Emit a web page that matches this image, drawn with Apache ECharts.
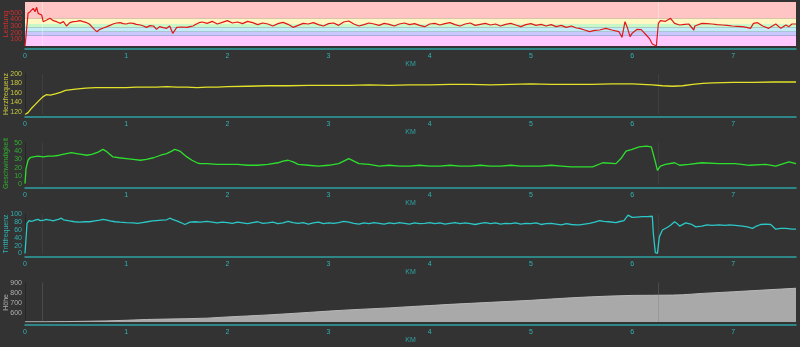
<!DOCTYPE html>
<html><head><meta charset="utf-8">
<script src="https://cdn.jsdelivr.net/npm/echarts@6/dist/echarts.min.js"></script>
<style>html,body{margin:0;padding:0;background:#333333}#c{width:800px;height:347px}</style>
</head><body><div id="c"></div>
<script>
// ---- Data ----
const powerKm = [0,0.01,0.03,0.05,0.066,0.082,0.099,0.115,0.13,0.148,0.165,0.18,0.214,0.247,0.28,0.313,0.345,0.38,0.41,0.444,0.477,0.51,0.543,0.575,0.61,0.635,0.66,0.685,0.71,0.74,0.775,0.81,0.84,0.87,0.905,0.94,0.97,1.0,1.035,1.07,1.1,1.14,1.17,1.2,1.235,1.27,1.3,1.33,1.365,1.4,1.43,1.46,1.5,1.55,1.6,1.63,1.66,1.69,1.72,
1.75,1.8,1.85,1.9,1.95,2.0,2.05,2.1,2.15,2.2,2.25,2.3,2.35,2.4,2.45,2.5,2.55,2.6,2.65,2.7,2.75,2.8,2.85,2.9,2.95,3.0,3.05,3.1,3.15,3.2,3.25,3.3,3.35,3.4,3.45,3.5,3.55,3.6,3.65,3.7,3.75,3.8,3.85,3.9,3.95,4.0,4.05,4.1,4.15,4.2,4.25,4.3,4.35,4.4,4.45,4.5,4.55,4.6,4.65,4.7,4.75,4.8,4.85,4.9,4.95,5.0,5.05,5.1,5.15,5.2,5.25,5.3,5.35,5.4,5.45,
5.48,5.53,5.58,5.63,5.68,5.74,5.8,5.87,5.9,5.93,5.95,5.98,6.0,6.05,6.09,6.14,6.17,6.2,6.24,6.25,6.26,6.28,6.33,6.38,6.42,6.47,6.52,6.56,6.61,6.62,6.69,6.74,6.79,6.84,6.89,6.94,6.99,7.04,7.09,7.13,7.17,7.2,7.24,7.29,7.35,7.42,7.47,7.52,7.55,7.58,7.62];
const powerW = [0,150,490,515,500,565,515,580,490,515,465,365,390,415,380,365,340,365,300,350,365,370,380,365,350,330,290,250,215,250,270,290,310,330,345,350,335,330,345,340,325,315,300,280,305,300,250,290,275,265,300,190,280,285,280,290,300,325,350,
360,340,370,330,355,380,345,360,335,370,350,320,345,330,300,335,355,325,280,310,340,330,350,320,300,335,345,310,360,375,330,300,320,345,330,310,340,325,300,330,345,320,335,310,290,330,340,315,335,350,320,300,330,345,310,325,340,315,330,300,325,340,315,290,320,335,310,325,300,320,290,310,280,300,270,
265,240,215,235,240,265,240,215,130,365,290,140,190,250,245,165,115,30,0,0,340,380,370,415,340,315,325,330,240,300,340,335,330,320,315,310,300,295,290,280,265,340,350,300,265,330,265,315,290,330,330];

const hrKm = [0,0.03,0.06,0.1,0.14,0.18,0.21,0.25,0.3,0.35,0.4,0.5,0.6,0.7,0.8,0.9,1.0,1.1,1.2,1.3,1.4,1.5,1.6,1.7,1.8,1.9,2.0,2.2,2.4,2.6,2.8,3.0,3.2,3.4,3.6,3.8,4.0,4.2,4.4,4.6,4.8,5.0,5.2,5.4,5.6,5.8,6.0,6.1,6.2,6.3,6.4,6.5,6.6,6.7,6.8,7.0,7.2,7.4,7.62];
const hrBpm = [114,118,126,135,144,152,156,155,158,161,165,168,170,171,171,171,171,172,172,172,173,172,172,171,172,172,173,174,175,175,176,176,176,177,176,177,177,178,178,177,178,179,178,178,178,179,179,178,177,175,174,175,178,180,181,182,182,183,183];

const speedKm = [0,0.01,0.03,0.05,0.08,0.13,0.18,0.23,0.28,0.34,0.41,0.46,0.51,0.56,0.61,0.66,0.71,0.74,0.77,0.8,0.84,0.87,0.93,1.0,1.07,1.14,1.2,1.27,1.34,1.4,1.45,1.48,1.53,1.57,1.6,1.65,1.7,1.73,
1.8,1.9,2.0,2.1,2.2,2.3,2.4,2.5,2.55,2.6,2.65,2.7,2.8,2.9,3.0,3.1,3.15,3.2,3.25,3.3,3.4,3.5,3.6,3.7,3.8,3.9,4.0,4.1,4.2,4.3,4.4,4.5,4.6,4.7,4.8,4.9,5.0,5.1,5.2,5.3,5.4,
5.48,5.61,5.71,5.84,5.89,5.94,6.0,6.07,6.14,6.19,6.2,6.23,6.25,6.28,6.33,6.42,6.47,6.56,6.69,6.86,7.02,7.16,7.32,7.42,7.55,7.62];
const speedKmh = [1,19,29,32,33,34,33,34,34,35,37,38,37,36,35,36,38,40,42,40,36,33,32,31,30,29,30,32,35,37,40,42,40,36,33,29,26,25,
25,24,24,24,23,23,24,26,28,29,27,24,23,22,23,25,28,31,28,25,24,22,23,22,22,23,22,22,23,22,22,23,22,22,23,22,22,22,23,22,21,
21,21,26,25,31,40,42,45,46,45,44,27,17,22,24,26,23,24,26,25,25,23,24,22,27,25];

const cadKm = [0,0.02,0.04,0.06,0.08,0.1,0.13,0.15,0.165,0.19,0.21,0.23,0.25,0.28,0.3,0.33,0.36,0.38,0.395,0.44,0.49,0.54,0.59,0.64,0.69,0.74,0.77,0.8,0.84,0.89,0.94,1.0,1.07,1.11,1.16,1.21,1.26,1.3,1.35,1.4,1.43,1.47,1.5,1.54,1.58,1.63,1.68,1.73,
1.8,1.85,1.9,1.95,2.0,2.05,2.1,2.15,2.2,2.25,2.3,2.35,2.4,2.45,2.5,2.55,2.6,2.65,2.7,2.75,2.8,2.85,2.9,2.95,3.0,3.05,3.1,3.15,3.2,3.25,3.3,3.35,3.4,3.45,3.5,3.55,3.6,3.65,3.7,3.75,3.8,3.85,3.9,3.95,4.0,4.05,4.1,4.15,4.2,4.25,4.3,4.35,4.4,4.45,4.5,4.55,4.6,4.65,4.7,4.75,4.8,4.85,4.9,4.95,5.0,5.05,5.1,5.15,5.2,5.25,5.3,5.35,5.4,5.45,
5.48,5.53,5.58,5.63,5.68,5.72,5.77,5.84,5.87,5.92,5.96,6.0,6.05,6.1,6.15,6.2,6.21,6.23,6.25,6.27,6.3,6.35,6.38,6.42,6.45,6.47,6.53,6.59,6.63,6.69,6.74,6.79,6.86,6.92,6.96,7.02,7.09,7.14,7.19,7.23,7.27,7.32,7.37,7.42,7.47,7.52,7.56,7.58,7.62];
const cadRpm = [0,77,84,82,83,85,87,84,83,85,87,86,85,83,85,87,90,86,83,83,81,80,81,81,83,85,87,86,83,81,80,79,78,77,79,81,83,84,85,86,90,86,83,79,74,80,81,80,
82,80,78,80,79,77,80,78,76,79,81,77,78,80,76,78,82,79,77,79,75,78,80,76,78,77,79,82,80,77,75,78,76,79,77,75,78,76,79,77,75,78,76,77,79,76,78,75,77,79,76,78,76,74,77,79,76,78,75,77,76,78,75,77,76,78,74,76,77,75,73,76,74,73,
73,75,77,80,84,82,81,79,81,84,98,92,93,94,94,95,51,2,0,43,60,67,72,81,75,70,78,74,68,70,73,72,73,72,73,72,70,68,64,70,74,75,74,62,64,64,63,62,62];

const altKm = [0,0.2,0.4,0.6,0.8,1.0,1.2,1.4,1.6,1.8,2.0,2.2,2.4,2.6,2.8,3.0,3.2,3.4,3.6,3.8,4.0,4.2,4.4,4.6,4.8,5.0,5.2,5.4,5.6,5.8,6.0,6.2,6.4,6.5,6.7,7.0,7.3,7.62];
const altM = [512,512,514,517,521,527,535,539,543,548,560,570,580,592,605,618,630,640,650,662,673,685,695,705,715,725,738,750,760,768,774,775,777,780,794,810,827,845];

const powerZones = [0,155,215,280,330,415,660];
const zoneColors = ['#ffc8ff','#c8c8ff','#c4ecf8','#c8f8c8','#fff8c4','#ffc4c4'];
const lapKm = [0.175, 6.26];

const xTicks = [0,1,2,3,4,5,6,7];
const powerTicks = [0,100,200,300,400,500,600];
const hrTicks = [120,140,160,180,200];
const speedTicks = [0,10,20,30,40,50];
const cadTicks = [0,20,40,60,80,100];
const altTicks = [600,700,800,900];

// ---- Build ----
const zip = (a,b) => a.map((v,i)=>[v,b[i]]);
const FONT = 'Liberation Sans, Arial, sans-serif';
const XMAX = 7.62;
const grids = [
  {top:2, bottom:46},
  {top:74, bottom:114},
  {top:142.7, bottom:184.5},
  {top:214.3, bottom:253.5},
  {top:282.7, bottom:322}
];
const panels = [
  {name:'Leistung', color:'#d03030', min:0, max:660, ticks:powerTicks},
  {name:'Herzfrequenz', color:'#c8c840', min:115, max:200, ticks:hrTicks},
  {name:'Geschwindigkeit', color:'#30b030', min:0, max:50, ticks:speedTicks},
  {name:'Trittfrequenz', color:'#30b0b0', min:0, max:100, ticks:cadTicks},
  {name:'Höhe', color:'#b0b0b0', min:510, max:900, ticks:altTicks}
];
const teal = '#2fa3a3';
const option = {
  backgroundColor:'#333333',
  animation:false,
  textStyle:{fontFamily:FONT},
  grid: grids.map(g=>({left:25, right:4, top:g.top, height:g.bottom-g.top, containLabel:false, outerBoundsMode:'none'})),
  xAxis: grids.map((g,i)=>({
    type:'value', gridIndex:i, min:0, max:XMAX, offset:3,
    name:'KM', nameLocation:'middle', nameGap:12, nameMoveOverlap:false,
    nameTextStyle:{color:teal, fontSize:7, fontFamily:FONT},
    axisLine:{show:true, onZero:false, lineStyle:{color:teal, width:1.5}},
    axisTick:{show:false},
    splitLine:{show:false},
    axisLabel:{color:'#30b4b4', fontSize:7, margin:4, customValues:xTicks, formatter:v=>String(v)}
  })),
  yAxis: panels.map((p,i)=>({
    type:'value', gridIndex:i, min:p.min, max:p.max,
    name:p.name, nameLocation:'middle', nameGap:15, nameMoveOverlap:false,
    nameTextStyle:{color:p.color, fontSize:7, fontFamily:FONT},
    axisLine:{show:true, lineStyle:{color:'#262626', width:1}},
    axisTick:{show:false},
    splitLine:{show:false},
    axisLabel:{color:p.color, fontSize:7, margin:3, customValues:p.ticks, formatter:v=>String(v)}
  })),
  series: []
};
const lapLine = (c) => ({silent:true, symbol:['none','none'], label:{show:false},
  lineStyle:{color:c, width:1, type:'solid'}, data: lapKm.map(k=>({xAxis:k}))});

option.series.push({
  type:'line', xAxisIndex:0, yAxisIndex:0, data:zip(powerKm,powerW), showSymbol:false,
  lineStyle:{color:'#e01818', width:1.2}, z:5,
  markArea:{silent:true, data: zoneColors.map((c,i)=>[{yAxis:powerZones[i], itemStyle:{color:c, opacity:1}},{yAxis:powerZones[i+1]}])},
  markLine: lapLine('rgba(255,255,255,0.35)')
});
option.series.push({type:'line', xAxisIndex:1, yAxisIndex:1, data:zip(hrKm,hrBpm), showSymbol:false,
  lineStyle:{color:'#e2e22a', width:1.3}, markLine: lapLine('rgba(200,200,200,0.08)')});
option.series.push({type:'line', xAxisIndex:2, yAxisIndex:2, data:zip(speedKm,speedKmh), showSymbol:false,
  lineStyle:{color:'#2ee02e', width:1.3}, markLine: lapLine('rgba(200,200,200,0.08)')});
option.series.push({type:'line', xAxisIndex:3, yAxisIndex:3, data:zip(cadKm,cadRpm), showSymbol:false,
  lineStyle:{color:'#2cc8c8', width:1.3}, markLine: lapLine('rgba(200,200,200,0.08)')});
option.series.push({type:'line', xAxisIndex:4, yAxisIndex:4, data:zip(altKm,altM), showSymbol:false,
  lineStyle:{color:'#b8b8b8', width:1}, areaStyle:{color:'#a9a9a9', opacity:1},
  markLine: lapLine('rgba(120,120,120,0.35)')});

const chart = echarts.init(document.getElementById('c'), null, {renderer:'canvas'});
chart.setOption(option);
</script>
</body></html>
